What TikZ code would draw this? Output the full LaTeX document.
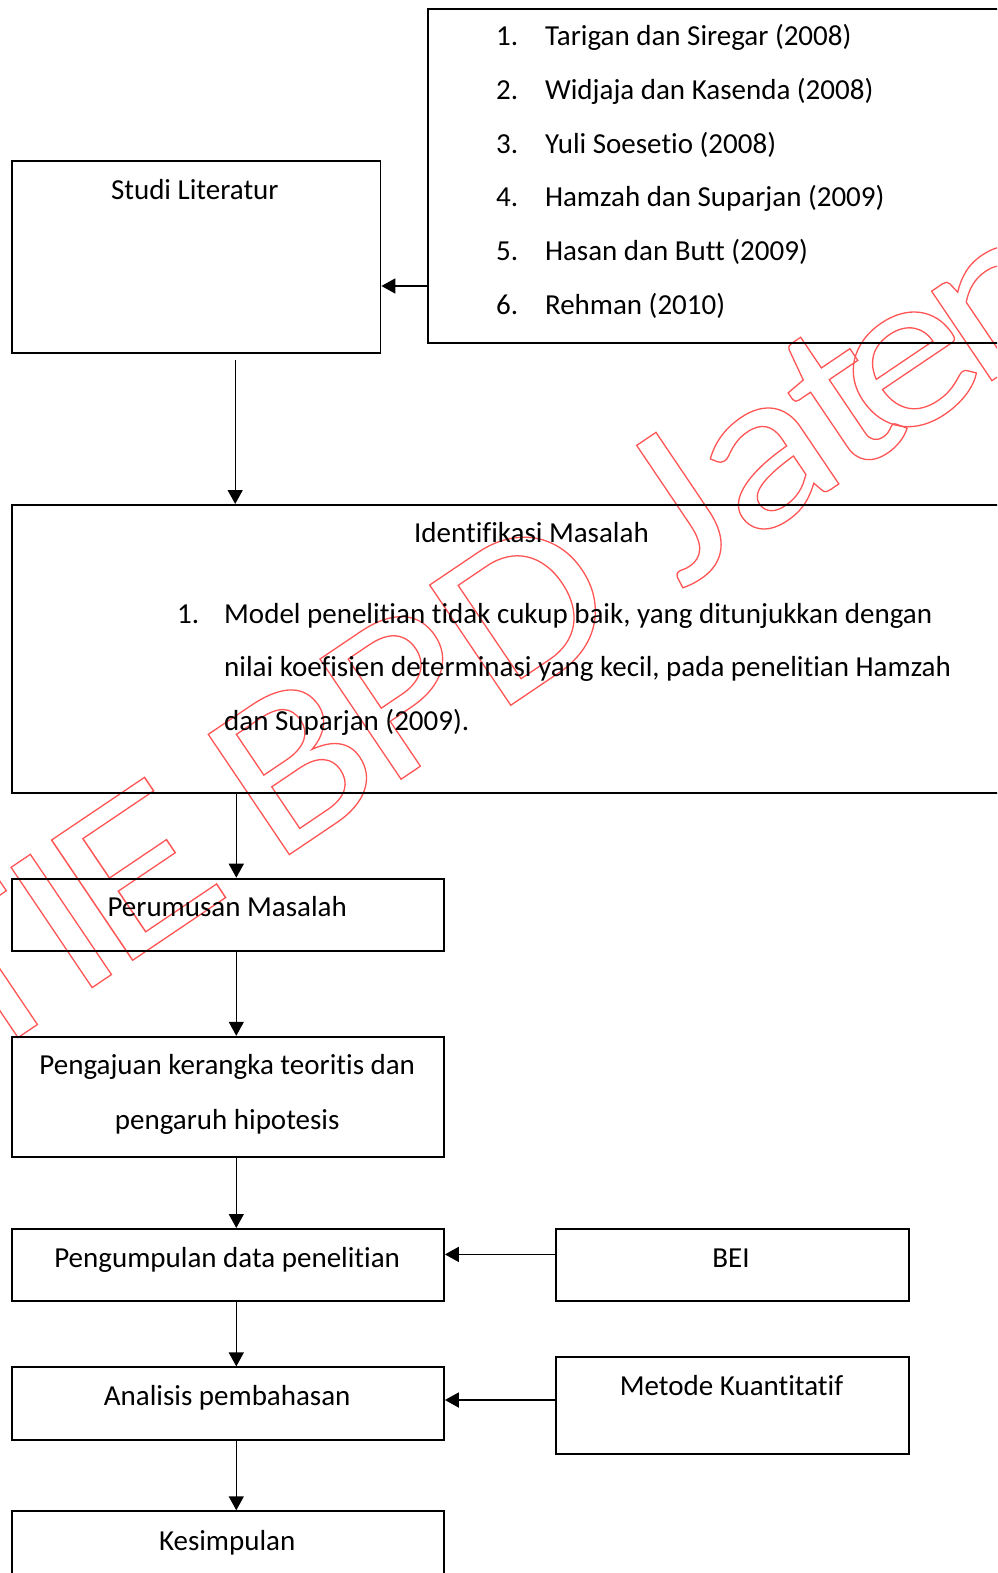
\documentclass[tikz,border=0pt]{standalone}
\usepackage{fontspec}
\usepackage{graphicx}
\setmainfont{Carlito}[Ligatures=NoCommon]
\newfontfamily\wmfont{Carlito}[FakeStretch=1.16, Ligatures=NoCommon]
\usetikzlibrary{arrows.meta}
\definecolor{wmred}{RGB}{255,85,85}
\newcommand{\wmtxt}[1]{\special{pdf:literal direct 1 Tr 1.3 w}#1\special{pdf:literal direct 0 Tr}}
\tikzset{
  box/.style={draw=black, line width=1.9pt, anchor=north west, inner sep=0pt},
  txt/.style={anchor=base, inner sep=0pt, font=\fontsize{29}{53.66}\selectfont},
  txtw/.style={txt, anchor=base west},
  arr/.style={draw=black, line width=1.4pt, -{Triangle[width=15pt,length=14pt]}},
  harr/.style={arr, line width=1.8pt},
  wmk/.style={inner sep=0pt, anchor=base west, rotate=34, text=wmred, font=\wmfont\fontsize{226}{226}\selectfont},
}
\begin{document}
\begin{tikzpicture}[x=1pt,y=-1pt]
\path[use as bounding box, clip] (0,0) rectangle (997,1573);

% watermark (outlined letters along a baseline rotated by 34 degrees)
\begin{scope}[shift={(93,987)}]
\node[wmk] (wS) at (-34:-263.4) {\wmtxt{S}};
\node[wmk] (wT) at (-34:-142.9) {\wmtxt{T}};
\node[wmk] (wI) at (-34:-22.6) {\wmtxt{I}};
\node[wmk] (wE) at (-34:26.5) {\wmtxt{\scalebox{1.14}[1]{E}}};
\node[wmk] (wB) at (-34:218.2) {\wmtxt{B}};
\node[wmk] (wP) at (-34:352.6) {\wmtxt{P}};
\node[wmk] (wD) at (-34:485.9) {\wmtxt{D}};
\node[wmk] (wJ) at (-34:707.8) {\wmtxt{J}};
\node[wmk] (wa) at (-34:790) {\wmtxt{a}};
\node[wmk] (wt) at (-34:904) {\wmtxt{t}};
\node[wmk] (we) at (-34:956.5) {\wmtxt{e}};
\node[wmk] (wn) at (-34:1066.2) {\wmtxt{n}};
\node[wmk] (wg) at (-34:1204) {\wmtxt{g}};
\end{scope}

% boxes
\node[box, minimum width=577.7pt, minimum height=333.7pt] (ref) at (427.3,8) {};
\node[box, minimum width=368.1pt, minimum height=192.3pt] (studi) at (11.4,160) {};
\node[box, minimum width=995pt, minimum height=287.7pt] (ident) at (11.4,504) {};
\node[box, minimum width=431.6pt, minimum height=71.9pt] (perum) at (11.4,877.7) {};
\node[box, minimum width=431.6pt, minimum height=119.9pt] (penga) at (11.4,1035.8) {};
\node[box, minimum width=431.6pt, minimum height=72pt] (pengu) at (11.4,1228) {};
\node[box, minimum width=353pt, minimum height=72pt] (bei) at (555,1228) {};
\node[box, minimum width=431.6pt, minimum height=72.4pt] (anal) at (11.4,1366.4) {};
\node[box, minimum width=353pt, minimum height=96.4pt] (meto) at (555,1356.3) {};
\node[box, minimum width=431.6pt, minimum height=100pt] (kes) at (11.4,1510.3) {};

% texts
\node[txt] (tstudi) at (194.8,199.3) {Studi Literatur};
\node[txtw] (n1) at (495.9,45.7) {1.};
\node[txtw] (r1) at (544.8,45.7) {Tarigan dan Siregar (2008)};
\node[txtw] (n2) at (495.9,99.36) {2.};
\node[txtw] (r2) at (544.8,99.36) {Widjaja dan Kasenda (2008)};
\node[txtw] (n3) at (495.9,153.02) {3.};
\node[txtw] (r3) at (544.8,153.02) {Yuli Soesetio (2008)};
\node[txtw] (n4) at (495.9,206.68) {4.};
\node[txtw] (r4) at (544.8,206.68) {Hamzah dan Suparjan (2009)};
\node[txtw] (n5) at (495.9,260.34) {5.};
\node[txtw] (r5) at (544.8,260.34) {Hasan dan Butt (2009)};
\node[txtw] (n6) at (495.9,314) {6.};
\node[txtw] (r6) at (544.8,314) {Rehman (2010)};

\node[txt] (tident) at (531.5,542.7) {Identifikasi Masalah};
\node[txtw] (m1) at (177,623) {1.};
\node[txtw] (l1) at (224,623) {Model penelitian tidak cukup baik, yang ditunjukkan dengan};
\node[txtw] (l2) at (224,676.7) {nilai koefisien determinasi yang kecil, pada penelitian Hamzah};
\node[txtw] (l3) at (224,730.3) {dan Suparjan (2009).};

\node[txt] (tperum) at (227.2,916.9) {Perumusan Masalah};
\node[txt] (tpenga1) at (227.2,1074.6) {Pengajuan kerangka teoritis dan};
\node[txt] (tpenga2) at (227.2,1129) {pengaruh hipotesis};
\node[txt] (tpengu) at (227.2,1267.3) {Pengumpulan data penelitian};
\node[txt] (tbei) at (731,1267.3) {BEI};
\node[txt] (tanal) at (227.2,1405.6) {Analisis pembahasan};
\node[txt] (tmeto) at (731.5,1395.5) {Metode Kuantitatif};
\node[txt] (tkes) at (227.2,1550.9) {Kesimpulan};

% connectors
\coordinate (ya) at (0,286);
\coordinate (xa) at (235.2,0);
\coordinate (xb) at (236.3,0);
\coordinate (yb) at (0,1254.4);
\coordinate (yc) at (0,1400);
\draw[harr] (ref.west |- ya) -- (studi.east |- ya);
\draw[arr] ([yshift=-6pt]studi.south -| xa) -- (ident.north -| xa);
\draw[arr] (ident.south -| xb) -- (perum.north -| xb);
\draw[arr] (perum.south -| xb) -- (penga.north -| xb);
\draw[arr] (penga.south -| xb) -- (pengu.north -| xb);
\draw[arr] (pengu.south -| xb) -- (anal.north -| xb);
\draw[arr] (anal.south -| xb) -- (kes.north -| xb);
\draw[harr] (bei.west |- yb) -- (pengu.east |- yb);
\draw[harr] (meto.west |- yc) -- (anal.east |- yc);
\end{tikzpicture}
\end{document}
